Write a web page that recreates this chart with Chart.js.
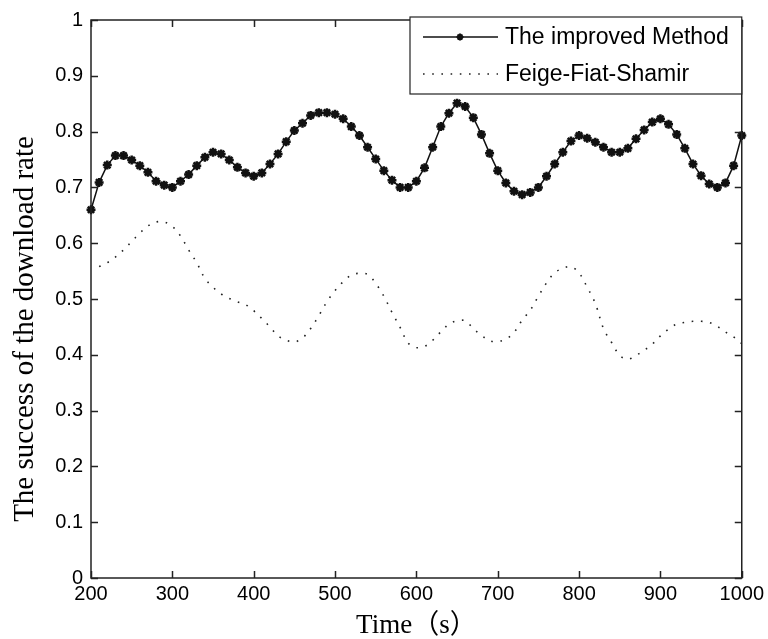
<!DOCTYPE html>
<html>
<head>
<meta charset="utf-8">
<script src="https://cdn.jsdelivr.net/npm/chart.js@4.4.1/dist/chart.umd.min.js"></script>
<style>
  html, body { margin: 0; padding: 0; background: #fff; }
  #wrap { width: 768px; height: 639px; }
</style>
</head>
<body>
<div id="wrap"><canvas id="rateChart" width="768" height="639"></canvas></div>
<script>
// time axis (s)
const tempos = [
  200, 210, 220, 230, 240, 250, 260, 270, 280, 290,
  300, 310, 320, 330, 340, 350, 360, 370, 380, 390,
  400, 410, 420, 430, 440, 450, 460, 470, 480, 490,
  500, 510, 520, 530, 540, 550, 560, 570, 580, 590,
  600, 610, 620, 630, 640, 650, 660, 670, 680, 690,
  700, 710, 720, 730, 740, 750, 760, 770, 780, 790,
  800, 810, 820, 830, 840, 850, 860, 870, 880, 890,
  900, 910, 920, 930, 940, 950, 960, 970, 980, 990,
  1000
];

// The improved Method
const metodoMelhorado = [
  0.660, 0.709, 0.740, 0.757, 0.757, 0.749, 0.739, 0.727, 0.711, 0.704,
  0.700, 0.711, 0.723, 0.739, 0.754, 0.763, 0.760, 0.749, 0.736, 0.726,
  0.720, 0.726, 0.742, 0.760, 0.782, 0.802, 0.815, 0.829, 0.834, 0.834,
  0.831, 0.823, 0.809, 0.793, 0.772, 0.751, 0.730, 0.713, 0.700, 0.700,
  0.711, 0.735, 0.772, 0.809, 0.833, 0.851, 0.845, 0.825, 0.795, 0.761,
  0.730, 0.708, 0.693, 0.687, 0.691, 0.700, 0.720, 0.742, 0.763, 0.783,
  0.793, 0.788, 0.781, 0.772, 0.763, 0.763, 0.770, 0.787, 0.803, 0.817,
  0.823, 0.813, 0.795, 0.770, 0.742, 0.721, 0.706, 0.700, 0.708, 0.739,
  0.793
];

// Feige-Fiat-Shamir (starts at 210 s)
const feigeFiatShamir = [
  null,  0.558, 0.565, 0.575, 0.588, 0.603, 0.618, 0.631, 0.638, 0.638,
  0.630, 0.613, 0.588, 0.565, 0.537, 0.521, 0.509, 0.501, 0.495, 0.490,
  0.479, 0.465, 0.450, 0.434, 0.426, 0.423, 0.430, 0.447, 0.470, 0.495,
  0.515, 0.531, 0.543, 0.546, 0.544, 0.528, 0.505, 0.476, 0.449, 0.421,
  0.413, 0.415, 0.426, 0.441, 0.455, 0.461, 0.461, 0.447, 0.435, 0.425,
  0.424, 0.428, 0.440, 0.462, 0.480, 0.505, 0.529, 0.547, 0.555, 0.558,
  0.547, 0.521, 0.492, 0.447, 0.422, 0.399, 0.392, 0.399, 0.408, 0.419,
  0.434, 0.446, 0.455, 0.458, 0.460, 0.460, 0.458, 0.451, 0.441, 0.432,
  0.420
];

const rotuloX = 'Time（s）';
const rotuloY = 'The success of the download rate';

const fonteEixo = "'Liberation Sans', Arial, sans-serif";
const fonteTitulo = "'Liberation Serif', 'Times New Roman', 'Noto Sans CJK SC', serif";

function pares(valores) {
  return tempos.map((t, i) => ({ x: t, y: valores[i] }));
}

// frame, inward ticks, legend and y label like the matlab figure
const moldura = {
  id: 'moldura',
  afterDraw(chart) {
    const { ctx, chartArea: a, scales } = chart;
    const x = scales.x, y = scales.y;
    ctx.save();
    ctx.strokeStyle = '#222';
    ctx.lineWidth = 1.5;
    ctx.strokeRect(a.left, a.top, a.right - a.left, a.bottom - a.top);

    ctx.beginPath();
    x.ticks.forEach(t => {
      const px = Math.round(x.getPixelForValue(t.value)) + 0.5;
      ctx.moveTo(px, a.bottom); ctx.lineTo(px, a.bottom - 7);
      ctx.moveTo(px, a.top); ctx.lineTo(px, a.top + 7);
    });
    y.ticks.forEach(t => {
      const py = Math.round(y.getPixelForValue(t.value)) + 0.5;
      ctx.moveTo(a.left, py); ctx.lineTo(a.left + 7, py);
      ctx.moveTo(a.right, py); ctx.lineTo(a.right - 7, py);
    });
    ctx.stroke();

    // legend box
    const bx = 410, by = a.top - 3, bw = a.right - bx, bh = 77;
    ctx.fillStyle = '#fff';
    ctx.fillRect(bx, by, bw, bh);
    ctx.lineWidth = 1.2;
    ctx.strokeRect(bx, by, bw, bh);

    const linhas = [by + 20, by + 57];
    chart.data.datasets.forEach((ds, i) => {
      const ly = linhas[i];
      ctx.save();
      ctx.strokeStyle = ds.borderColor;
      ctx.lineWidth = ds.borderWidth;
      ctx.setLineDash(ds.borderDash || []);
      ctx.beginPath();
      ctx.moveTo(bx + 13, ly);
      ctx.lineTo(bx + 88, ly);
      ctx.stroke();
      ctx.restore();
      if (ds.pointRadius > 0) {
        ctx.save();
        ctx.strokeStyle = ds.pointBorderColor;
        ctx.fillStyle = ds.pointBackgroundColor;
        ctx.lineWidth = 2;
        Chart.helpers.drawPoint(ctx, { pointStyle: 'star', radius: 3.5, rotation: 0, borderWidth: 2 }, bx + 50, ly);
        ctx.restore();
      }
      ctx.fillStyle = '#000';
      ctx.font = '23px ' + fonteEixo;
      ctx.textAlign = 'left';
      ctx.textBaseline = 'middle';
      ctx.fillText(ds.label, bx + 95, ly + 1);
    });

    // y axis label
    ctx.save();
    ctx.translate(25, (a.top + a.bottom) / 2 + 30);
    ctx.rotate(-Math.PI / 2);
    ctx.fillStyle = '#000';
    ctx.font = '29px ' + fonteTitulo;
    ctx.textAlign = 'center';
    ctx.textBaseline = 'middle';
    ctx.fillText(rotuloY, 0, 0);
    ctx.restore();

    ctx.restore();
  }
};

const fundoBranco = {
  id: 'fundoBranco',
  beforeDraw(chart) {
    const ctx = chart.ctx;
    ctx.save();
    ctx.fillStyle = '#fff';
    ctx.fillRect(0, 0, chart.width, chart.height);
    ctx.restore();
  }
};

new Chart(document.getElementById('rateChart').getContext('2d'), {
  type: 'line',
  data: {
    datasets: [
      {
        label: 'The improved Method',
        data: pares(metodoMelhorado),
        borderColor: '#111',
        borderWidth: 1.5,
        pointStyle: 'star',
        pointRadius: 4.5,
        pointBorderWidth: 2.5,
        pointBorderColor: '#111',
        pointBackgroundColor: '#111',
        tension: 0,
        clip: 12
      },
      {
        label: 'Feige-Fiat-Shamir',
        data: pares(feigeFiatShamir),
        borderColor: '#222',
        borderWidth: 1.6,
        borderDash: [1.6, 7.6],
        borderCapStyle: 'butt',
        pointRadius: 0,
        tension: 0.35,
        spanGaps: false,
        clip: 12
      }
    ]
  },
  options: {
    responsive: false,
    animation: false,
    devicePixelRatio: 1,
    layout: { padding: { left: 0, top: 18, right: 25, bottom: 0 } },
    plugins: {
      legend: { display: false },
      tooltip: { enabled: false }
    },
    scales: {
      x: {
        type: 'linear',
        min: 200,
        max: 1000,
        ticks: {
          stepSize: 100, color: '#000', padding: 4,
          font: { family: fonteEixo, size: 20 },
          callback: v => String(v)
        },
        grid: { display: false, drawTicks: false },
        border: { display: false },
        title: { display: true, text: rotuloX, color: '#000', padding: { top: 0, bottom: -3 }, font: { family: fonteTitulo, size: 27 } },
        afterFit(scale) { scale.height = 61; }
      },
      y: {
        min: 0,
        max: 1,
        ticks: {
          stepSize: 0.1, color: '#000', padding: 8,
          font: { family: fonteEixo, size: 20 },
          callback: v => String(Math.round(v * 10) / 10)
        },
        grid: { display: false, drawTicks: false },
        border: { display: false },
        afterFit(scale) { scale.width = 91; }
      }
    }
  },
  plugins: [fundoBranco, moldura]
});
</script>
</body>
</html>
